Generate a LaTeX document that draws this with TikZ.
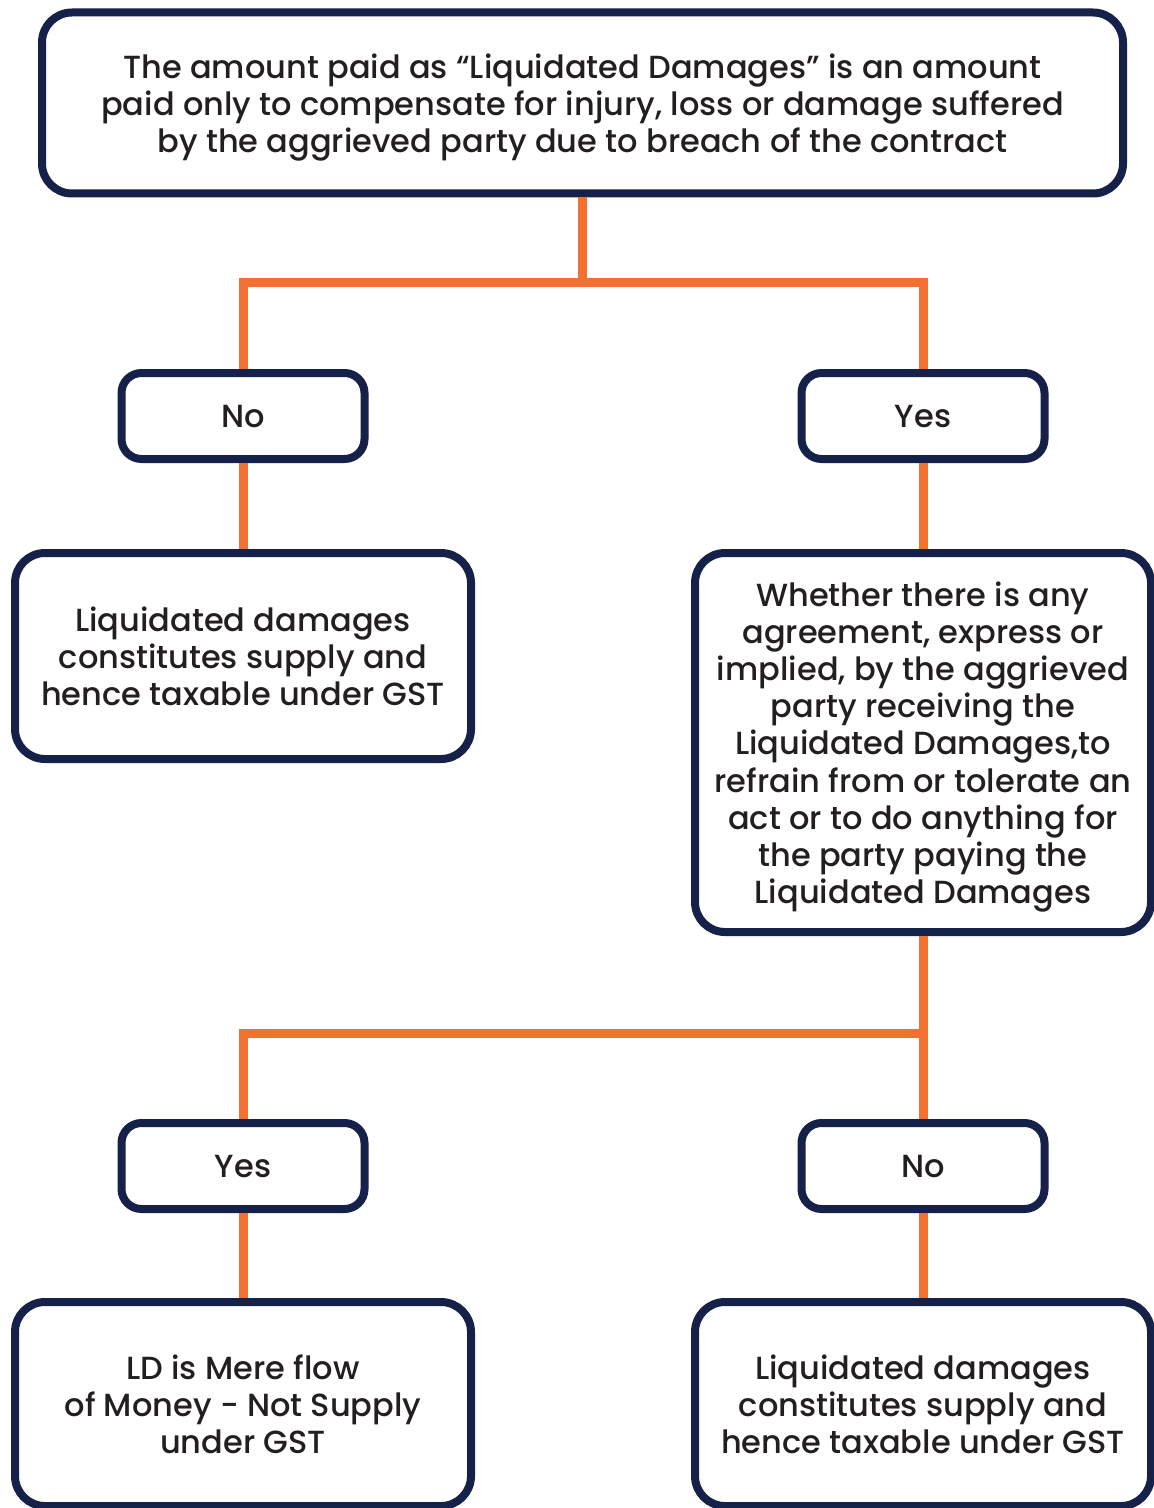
\documentclass[tikz,border=0pt]{standalone}
\usepackage{fontspec}
\setmainfont{Poppins}[UprightFont=* Medium]
\usepackage{xcolor}
\definecolor{navy}{RGB}{21,33,72}
\definecolor{flow}{RGB}{241,112,50}
\definecolor{ink}{RGB}{35,31,32}
\usepackage{tikz}
\tikzset{
  box/.style={draw=navy, line width=4pt, rounded corners=15pt, fill=white,
    text=ink, align=center, inner sep=0pt, text depth=0pt,
    font=\fontsize{16pt}{18.6pt}\selectfont},
  tag/.style={box, rounded corners=10pt, minimum width=121.5pt, minimum height=43pt},
  link/.style={draw=flow, line width=4.5pt}
}

\begin{document}
\begin{tikzpicture}[x=0.5pt,y=-0.5pt]

\useasboundingbox (0,0) rectangle (1153,1508);

\node[box, minimum width=540.5pt, minimum height=90.5pt] (top) at (582.5,103)
  {The amount paid as “Liquidated Damages” is an amount\\
   paid only to compensate for injury, loss or damage suffered\\
   by the aggrieved party due to breach of the contract};

\node[tag] (no1) at (243,416) {No};
\node[tag] (yes1) at (923,416) {Yes};

\node[box, minimum width=228pt, minimum height=103pt] (supply1) at (243,656)
  {Liquidated damages\\ constitutes supply and\\ hence taxable under GST};

\node[box, minimum width=228pt, minimum height=189.5pt] (ask) at (923,742.5)
  {Whether there is any\\ agreement, express or\\ implied, by the aggrieved\\
   party receiving the\\ Liquidated Damages,to\\ refrain from or tolerate an\\
   act or to do anything for\\ the party paying the\\ Liquidated Damages};

\node[tag] (yes2) at (243,1166) {Yes};
\node[tag] (no2) at (923,1166) {No};

\node[box, minimum width=228pt, minimum height=102pt] (money) at (243,1404)
  {LD is Mere flow\\ of Money - Not Supply\\ under GST};

\node[box, minimum width=228pt, minimum height=102pt] (supply2) at (923,1404)
  {Liquidated damages\\ constitutes supply and\\ hence taxable under GST};

% branches
\coordinate (split1) at (582.5,283);
\coordinate (split2) at (923,1033);

\draw[link] (top.south) -- (split1) -| (no1.north);
\draw[link] (split1) -| (yes1.north);
\draw[link] (no1.south) -- (supply1.north);
\draw[link] (yes1.south) -- (ask.north);
\draw[link] (ask.south) -- (no2.north);
\draw[link] (split2) -| (yes2.north);
\draw[link] (yes2.south) -- (money.north);
\draw[link] (no2.south) -- (supply2.north);

\end{tikzpicture}
\end{document}
